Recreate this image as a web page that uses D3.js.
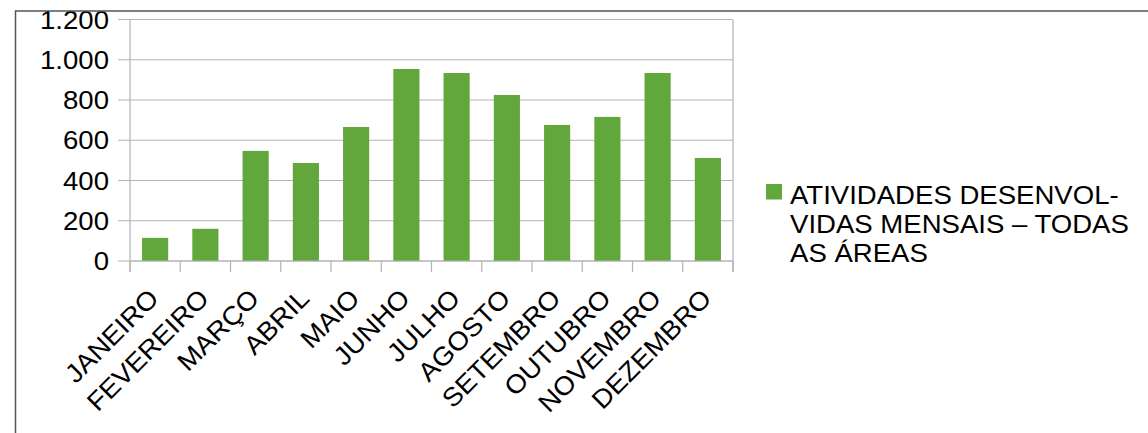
<!DOCTYPE html>
<html>
<head>
<meta charset="utf-8">
<script src="https://cdn.jsdelivr.net/npm/d3@7"></script>
<style>
  html, body { margin: 0; padding: 0; background: #fff; }
  svg { display: block; }
  text { font-family: "Liberation Sans", Arial, sans-serif; fill: #000; }
</style>
</head>
<body>
<svg id="chart" width="1148" height="433"></svg>
<script>
const categories = ["JANEIRO","FEVEREIRO","MARÇO","ABRIL","MAIO","JUNHO","JULHO","AGOSTO","SETEMBRO","OUTUBRO","NOVEMBRO","DEZEMBRO"];
const values = [115, 160, 547, 487, 666, 954, 934, 825, 676, 716, 934, 512];
const yTicks = [0, 200, 400, 600, 800, 1000, 1200];
const yTickLabels = ["0", "200", "400", "600", "800", "1.000", "1.200"];
const seriesName = ["ATIVIDADES DESENVOL-", "VIDAS MENSAIS – TODAS", "AS ÁREAS"];

const svg = d3.select("#chart");
const green = "#62a73b";
const gridColor = "#b3b3b3";
const fs = 26, sx = 1.06;

const plot = {left: 130, right: 733, top: 19.5, bottom: 261};

const x = d3.scaleBand().domain(categories).range([plot.left, plot.right]).paddingInner(0).paddingOuter(0);
const y = d3.scaleLinear().domain([0, 1200]).range([plot.bottom, plot.top]);

const g = svg.append("g");

// gridlines
g.selectAll("line.grid").data(yTicks).join("line")
  .attr("x1", plot.left - 12).attr("x2", plot.right)
  .attr("y1", d => y(d)).attr("y2", d => y(d))
  .attr("stroke", gridColor).attr("stroke-width", 1.2);

// bars
const barW = x.bandwidth() * 0.52;
g.selectAll("rect.bar").data(values).join("rect")
  .attr("x", (d, i) => x(categories[i]) + (x.bandwidth() - barW) / 2)
  .attr("y", d => y(d))
  .attr("width", barW)
  .attr("height", d => y(0) - y(d))
  .attr("fill", green);

// axes lines
g.append("line").attr("x1", plot.left).attr("x2", plot.left)
  .attr("y1", plot.top).attr("y2", plot.bottom + 11)
  .attr("stroke", gridColor).attr("stroke-width", 1.2);
g.append("line").attr("x1", plot.right).attr("x2", plot.right)
  .attr("y1", plot.top).attr("y2", plot.bottom + 11)
  .attr("stroke", gridColor).attr("stroke-width", 1.2);
g.append("line").attr("x1", plot.left).attr("x2", plot.right)
  .attr("y1", plot.bottom).attr("y2", plot.bottom)
  .attr("stroke", gridColor).attr("stroke-width", 1.2);

// x tick marks at band boundaries
const bounds = categories.map(c => x(c)).concat([plot.right]);
g.selectAll("line.xt").data(bounds).join("line")
  .attr("x1", d => d).attr("x2", d => d)
  .attr("y1", plot.bottom).attr("y2", plot.bottom + 11)
  .attr("stroke", gridColor).attr("stroke-width", 1.2);

// y tick labels
g.selectAll("text.yl").data(yTicks).join("text")
  .attr("transform", d => `translate(${plot.left - 21},${y(d) + 9}) scale(${sx},1)`)
  .attr("text-anchor", "end")
  .attr("font-size", fs)
  .text((d, i) => yTickLabels[i]);

// x labels rotated
g.selectAll("text.xl").data(categories).join("text")
  .attr("transform", d => `translate(${x(d) + x.bandwidth() / 2 + 5},${plot.bottom + 39}) rotate(-45) scale(${sx},1)`)
  .attr("text-anchor", "end")
  .attr("font-size", fs)
  .text(d => d);

// legend
g.append("rect").attr("x", 766).attr("y", 184).attr("width", 16).attr("height", 15.5).attr("fill", green);
g.selectAll("text.lg").data(seriesName).join("text")
  .attr("transform", (d, i) => `translate(790,${203.5 + i * 29}) scale(${sx},1)`)
  .attr("font-size", fs)
  .text(d => d);

// outer frame
svg.append("path")
  .attr("d", "M15.5,433 L15.5,11 L1148,11")
  .attr("fill", "none").attr("stroke", "#555").attr("stroke-width", 1.5);
</script>
</body>
</html>
